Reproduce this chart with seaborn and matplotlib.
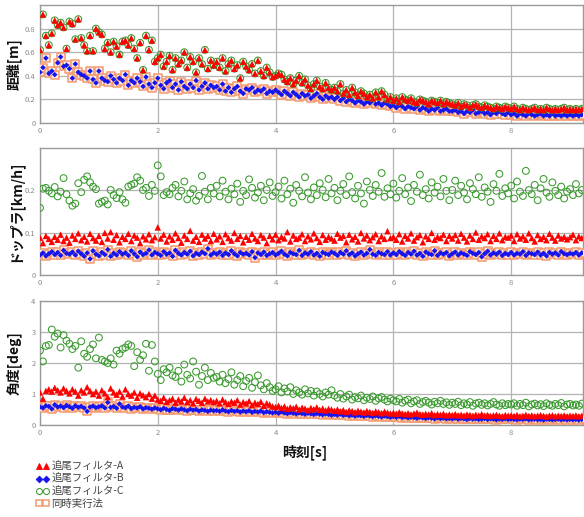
import numpy as np
import pandas as pd
import matplotlib
matplotlib.use("Agg")
import matplotlib.pyplot as plt
from matplotlib.lines import Line2D
import seaborn as sns

# ---------------- data ----------------
sample_period = 0.05  # s

labels = ["追尾フィルタ-A", "追尾フィルタ-B", "追尾フィルタ-C", "同時実行法"]
x_ticks = [0, 2, 4, 6, 8]

# distance [m]
dist_A = [0.62, 0.92, 0.74, 0.66, 0.76, 0.87, 0.83, 0.85, 0.81, 0.63, 0.86, 0.84, 0.71, 0.88, 0.72, 0.66, 0.61, 0.74, 0.61, 0.80,
          0.77, 0.75, 0.63, 0.68, 0.60, 0.69, 0.65, 0.58, 0.69, 0.70, 0.66, 0.72, 0.63, 0.55, 0.68, 0.45, 0.74, 0.62, 0.70, 0.52,
          0.55, 0.58, 0.48, 0.52, 0.57, 0.45, 0.55, 0.50, 0.53, 0.60, 0.47, 0.56, 0.52, 0.43, 0.55, 0.50, 0.62, 0.46, 0.53, 0.49,
          0.52, 0.47, 0.55, 0.44, 0.50, 0.53, 0.46, 0.49, 0.38, 0.52, 0.48, 0.45, 0.50, 0.42, 0.53, 0.44, 0.40, 0.47, 0.43, 0.39,
          0.40, 0.42, 0.41, 0.37, 0.35, 0.38, 0.33, 0.36, 0.40, 0.34, 0.37, 0.32, 0.29, 0.33, 0.36, 0.31, 0.29, 0.34, 0.30, 0.28,
          0.30, 0.27, 0.33, 0.25, 0.28, 0.24, 0.30, 0.26, 0.23, 0.27, 0.25, 0.22, 0.24, 0.21, 0.26, 0.22, 0.27, 0.24, 0.20, 0.22,
          0.19, 0.21, 0.18, 0.22, 0.20, 0.19, 0.21, 0.18, 0.17, 0.20, 0.19, 0.18, 0.16, 0.19, 0.18, 0.17, 0.19, 0.16, 0.18, 0.17,
          0.16, 0.15, 0.17, 0.14, 0.16, 0.15, 0.13, 0.15, 0.16, 0.14, 0.13, 0.15, 0.14, 0.13, 0.12, 0.14, 0.13, 0.12, 0.14, 0.13,
          0.12, 0.14, 0.12, 0.11, 0.13, 0.12, 0.11, 0.12, 0.13, 0.11, 0.12, 0.11, 0.13, 0.12, 0.11, 0.12, 0.11, 0.12, 0.13, 0.11,
          0.12, 0.11, 0.12, 0.11, 0.12]
dist_B = [0.43, 0.47, 0.55, 0.42, 0.44, 0.41, 0.51, 0.56, 0.48, 0.49, 0.46, 0.38, 0.50, 0.43, 0.41, 0.40, 0.38, 0.44, 0.37, 0.34,
          0.44, 0.38, 0.36, 0.35, 0.40, 0.37, 0.34, 0.38, 0.36, 0.41, 0.32, 0.36, 0.34, 0.38, 0.35, 0.31, 0.39, 0.33, 0.30, 0.34,
          0.38, 0.32, 0.29, 0.34, 0.36, 0.30, 0.33, 0.28, 0.35, 0.31, 0.29, 0.33, 0.30, 0.36, 0.28, 0.31, 0.34, 0.29, 0.32, 0.30,
          0.31, 0.28, 0.33, 0.27, 0.30, 0.26, 0.29, 0.31, 0.27, 0.25, 0.29, 0.28, 0.30, 0.26, 0.28, 0.27, 0.29, 0.25, 0.27, 0.26,
          0.28, 0.26, 0.24, 0.27, 0.25, 0.23, 0.26, 0.24, 0.22, 0.25, 0.23, 0.24, 0.21, 0.23, 0.25, 0.22, 0.20, 0.23, 0.21, 0.22,
          0.20, 0.22, 0.19, 0.21, 0.18, 0.20, 0.19, 0.17, 0.19, 0.18, 0.16, 0.18, 0.17, 0.19, 0.16, 0.17, 0.15, 0.17, 0.16, 0.14,
          0.15, 0.13, 0.15, 0.14, 0.12, 0.14, 0.13, 0.12, 0.14, 0.11, 0.13, 0.12, 0.10, 0.12, 0.11, 0.13, 0.10, 0.11, 0.12, 0.10,
          0.10, 0.11, 0.09, 0.10, 0.08, 0.10, 0.09, 0.11, 0.08, 0.09, 0.10, 0.08, 0.09, 0.07, 0.09, 0.08, 0.10, 0.08, 0.07, 0.09,
          0.07, 0.08, 0.06, 0.08, 0.07, 0.06, 0.08, 0.07, 0.06, 0.07, 0.08, 0.06, 0.07, 0.06, 0.08, 0.06, 0.07, 0.06, 0.07, 0.06,
          0.07, 0.06, 0.07, 0.06, 0.07]
dist_C = dist_A          # filter C coincides with filter A in distance
dist_S = dist_B          # simultaneous method coincides with filter B

# doppler [km/h]
dop_A = [0.088, 0.075, 0.092, 0.085, 0.078, 0.090, 0.083, 0.095, 0.080, 0.088, 0.076, 0.093, 0.085, 0.098, 0.082, 0.090, 0.079, 0.097, 0.087, 0.081,
         0.092, 0.078, 0.099, 0.086, 0.101, 0.083, 0.094, 0.077, 0.090, 0.085, 0.097, 0.080, 0.093, 0.088, 0.075, 0.091, 0.084, 0.096, 0.082, 0.089,
         0.112, 0.086, 0.095, 0.079, 0.091, 0.083, 0.098, 0.087, 0.076, 0.093, 0.085, 0.104, 0.081, 0.090, 0.078, 0.095, 0.086, 0.092, 0.080, 0.097,
         0.084, 0.091, 0.078, 0.096, 0.087, 0.081, 0.099, 0.085, 0.092, 0.077, 0.090, 0.083, 0.097, 0.086, 0.080, 0.094, 0.088, 0.075, 0.092, 0.084,
         0.095, 0.082, 0.090, 0.086, 0.101, 0.079, 0.093, 0.085, 0.088, 0.096, 0.080, 0.091, 0.084, 0.098, 0.087, 0.078, 0.094, 0.083, 0.090, 0.086,
         0.081, 0.097, 0.088, 0.092, 0.077, 0.095, 0.084, 0.090, 0.079, 0.099, 0.086, 0.093, 0.082, 0.089, 0.096, 0.080, 0.091, 0.085, 0.103, 0.087,
         0.090, 0.083, 0.096, 0.079, 0.092, 0.086, 0.098, 0.081, 0.089, 0.094, 0.077, 0.091, 0.085, 0.099, 0.083, 0.090, 0.087, 0.095, 0.080, 0.092,
         0.086, 0.094, 0.081, 0.097, 0.088, 0.079, 0.093, 0.085, 0.100, 0.083, 0.091, 0.087, 0.096, 0.080, 0.092, 0.085, 0.098, 0.082, 0.090, 0.088,
         0.093, 0.080, 0.096, 0.086, 0.091, 0.083, 0.098, 0.087, 0.079, 0.094, 0.085, 0.090, 0.082, 0.097, 0.088, 0.081, 0.093, 0.086, 0.090, 0.084,
         0.089, 0.095, 0.082, 0.091, 0.087]
dop_B = [0.047, 0.052, 0.045, 0.050, 0.055, 0.048, 0.053, 0.046, 0.058, 0.051, 0.049, 0.054, 0.047, 0.056, 0.050, 0.044, 0.052, 0.038, 0.057, 0.049,
         0.045, 0.053, 0.048, 0.060, 0.044, 0.051, 0.047, 0.055, 0.049, 0.052, 0.046, 0.057, 0.050, 0.043, 0.054, 0.048, 0.051, 0.059, 0.047, 0.053,
         0.050, 0.046, 0.055, 0.049, 0.052, 0.044, 0.058, 0.051, 0.047, 0.053, 0.049, 0.056, 0.045, 0.051, 0.048, 0.054, 0.050, 0.062, 0.047, 0.052,
         0.049, 0.054, 0.046, 0.052, 0.048, 0.057, 0.050, 0.045, 0.053, 0.049, 0.051, 0.047, 0.055, 0.041, 0.052, 0.048, 0.054, 0.046, 0.050, 0.053,
         0.047, 0.051, 0.056, 0.049, 0.045, 0.053, 0.050, 0.048, 0.058, 0.046, 0.052, 0.049, 0.055, 0.047, 0.051, 0.044, 0.053, 0.050, 0.048, 0.054,
         0.051, 0.046, 0.053, 0.049, 0.057, 0.048, 0.052, 0.045, 0.050, 0.054, 0.047, 0.051, 0.060, 0.049, 0.046, 0.053, 0.050, 0.048, 0.055, 0.047,
         0.052, 0.048, 0.055, 0.050, 0.046, 0.053, 0.049, 0.056, 0.047, 0.051, 0.044, 0.054, 0.050, 0.048, 0.057, 0.046, 0.052, 0.049, 0.053, 0.045,
         0.050, 0.054, 0.047, 0.052, 0.049, 0.046, 0.055, 0.051, 0.048, 0.053, 0.043, 0.050, 0.056, 0.047, 0.052, 0.049, 0.054, 0.046, 0.051, 0.048,
         0.053, 0.047, 0.051, 0.049, 0.055, 0.046, 0.052, 0.050, 0.048, 0.054, 0.047, 0.051, 0.045, 0.053, 0.049, 0.052, 0.047, 0.055, 0.050, 0.048,
         0.051, 0.049, 0.053, 0.047, 0.052]
dop_C = [0.158, 0.203, 0.205, 0.198, 0.192, 0.207, 0.185, 0.196, 0.228, 0.190, 0.175, 0.163, 0.168, 0.216, 0.195, 0.224, 0.232, 0.218, 0.208, 0.202,
         0.168, 0.172, 0.175, 0.166, 0.200, 0.188, 0.181, 0.195, 0.178, 0.170, 0.208, 0.212, 0.215, 0.230, 0.222, 0.200, 0.205, 0.186, 0.212, 0.198,
         0.258, 0.232, 0.188, 0.195, 0.190, 0.205, 0.212, 0.185, 0.198, 0.220, 0.178, 0.192, 0.202, 0.175, 0.186, 0.233, 0.196, 0.178, 0.205, 0.192,
         0.210, 0.185, 0.222, 0.196, 0.178, 0.203, 0.190, 0.215, 0.172, 0.198, 0.188, 0.225, 0.205, 0.182, 0.194, 0.210, 0.176, 0.200, 0.218, 0.186,
         0.195, 0.208, 0.180, 0.222, 0.190, 0.203, 0.170, 0.212, 0.198, 0.185, 0.230, 0.194, 0.178, 0.206, 0.188, 0.216, 0.200, 0.183, 0.226, 0.192,
         0.205, 0.176, 0.198, 0.214, 0.188, 0.232, 0.195, 0.180, 0.210, 0.192, 0.168, 0.220, 0.200, 0.186, 0.212, 0.196, 0.240, 0.184, 0.204, 0.190,
         0.215, 0.182, 0.198, 0.228, 0.190, 0.206, 0.174, 0.212, 0.196, 0.236, 0.188, 0.202, 0.180, 0.218, 0.194, 0.208, 0.185, 0.226, 0.198, 0.176,
         0.200, 0.222, 0.188, 0.210, 0.194, 0.178, 0.216, 0.202, 0.190, 0.230, 0.184, 0.206, 0.196, 0.172, 0.214, 0.198, 0.238, 0.186, 0.204, 0.192,
         0.210, 0.180, 0.220, 0.196, 0.186, 0.245, 0.200, 0.190, 0.212, 0.176, 0.204, 0.226, 0.194, 0.184, 0.218, 0.198, 0.188, 0.208, 0.180, 0.196,
         0.202, 0.188, 0.214, 0.192, 0.200]
dop_S = dop_B

# angle [deg]
ang_A = [1.05, 0.85, 1.10, 1.15, 1.08, 1.20, 1.12, 1.05, 1.18, 1.10, 1.02, 1.15, 1.08, 0.95, 1.12, 1.05, 1.22, 1.10, 1.00, 1.08,
         0.95, 1.12, 1.02, 0.90, 1.18, 1.05, 0.98, 1.08, 0.92, 1.15, 1.00, 0.95, 1.05, 0.88, 1.02, 0.96, 0.90, 1.00, 0.85, 0.95,
         0.82, 0.78, 0.88, 0.75, 0.80, 0.85, 0.72, 0.82, 0.76, 0.88, 0.74, 0.80, 0.70, 0.84, 0.78, 0.72, 0.85, 0.76, 0.80, 0.74,
         0.78, 0.70, 0.82, 0.74, 0.68, 0.76, 0.72, 0.80, 0.66, 0.74, 0.70, 0.77, 0.64, 0.72, 0.68, 0.75, 0.62, 0.70, 0.66, 0.60,
         0.58, 0.62, 0.55, 0.60, 0.52, 0.57, 0.54, 0.59, 0.50, 0.56, 0.53, 0.48, 0.55, 0.51, 0.57, 0.49, 0.53, 0.47, 0.52, 0.50,
         0.46, 0.50, 0.44, 0.48, 0.42, 0.47, 0.45, 0.41, 0.46, 0.43, 0.40, 0.45, 0.42, 0.39, 0.44, 0.41, 0.38, 0.43, 0.40, 0.37,
         0.39, 0.36, 0.41, 0.37, 0.35, 0.38, 0.34, 0.37, 0.40, 0.35, 0.33, 0.36, 0.34, 0.38, 0.32, 0.35, 0.33, 0.36, 0.31, 0.34,
         0.32, 0.35, 0.31, 0.33, 0.30, 0.34, 0.32, 0.29, 0.33, 0.31, 0.35, 0.30, 0.32, 0.29, 0.31, 0.33, 0.30, 0.28, 0.32, 0.30,
         0.31, 0.29, 0.32, 0.28, 0.30, 0.33, 0.29, 0.31, 0.28, 0.30, 0.32, 0.29, 0.27, 0.30, 0.31, 0.28, 0.30, 0.29, 0.31, 0.28,
         0.30, 0.29, 0.31, 0.28, 0.30]
ang_B = [0.58, 0.55, 0.62, 0.60, 0.52, 0.65, 0.58, 0.61, 0.56, 0.63, 0.59, 0.54, 0.62, 0.57, 0.60, 0.55, 0.44, 0.58, 0.61, 0.56,
         0.59, 0.62, 0.55, 0.73, 0.57, 0.60, 0.54, 0.68, 0.58, 0.56, 0.61, 0.53, 0.57, 0.55, 0.59, 0.52, 0.56, 0.54, 0.51, 0.55,
         0.52, 0.49, 0.54, 0.50, 0.47, 0.53, 0.51, 0.48, 0.52, 0.49, 0.46, 0.51, 0.48, 0.50, 0.45, 0.49, 0.47, 0.44, 0.48, 0.46,
         0.47, 0.44, 0.49, 0.45, 0.43, 0.47, 0.44, 0.46, 0.42, 0.45, 0.43, 0.46, 0.41, 0.44, 0.42, 0.45, 0.40, 0.43, 0.41, 0.39,
         0.41, 0.38, 0.42, 0.39, 0.37, 0.40, 0.38, 0.36, 0.39, 0.37, 0.35, 0.38, 0.36, 0.34, 0.37, 0.35, 0.33, 0.36, 0.34, 0.32,
         0.34, 0.32, 0.35, 0.31, 0.33, 0.30, 0.32, 0.29, 0.31, 0.30, 0.28, 0.31, 0.29, 0.27, 0.30, 0.28, 0.26, 0.29, 0.27, 0.25,
         0.27, 0.25, 0.28, 0.24, 0.26, 0.23, 0.25, 0.24, 0.22, 0.25, 0.23, 0.21, 0.24, 0.22, 0.20, 0.23, 0.21, 0.22, 0.20, 0.21,
         0.20, 0.22, 0.19, 0.21, 0.20, 0.18, 0.21, 0.19, 0.20, 0.18, 0.19, 0.21, 0.18, 0.20, 0.19, 0.17, 0.19, 0.18, 0.20, 0.18,
         0.19, 0.18, 0.17, 0.19, 0.18, 0.20, 0.17, 0.18, 0.19, 0.17, 0.18, 0.16, 0.19, 0.18, 0.17, 0.18, 0.19, 0.17, 0.18, 0.17,
         0.18, 0.17, 0.18, 0.16, 0.18]
ang_C = [2.40, 2.05, 2.55, 2.58, 3.08, 2.85, 2.95, 2.50, 2.90, 2.72, 2.62, 2.45, 2.55, 1.85, 2.70, 2.30, 2.20, 2.45, 2.60, 2.15,
         2.82, 2.10, 2.05, 2.00, 2.15, 1.95, 2.40, 2.30, 2.45, 2.50, 2.60, 2.55, 1.90, 2.35, 2.10, 2.25, 2.62, 1.75, 2.58, 2.05,
         1.65, 1.45, 1.80, 1.70, 1.85, 1.60, 1.55, 1.75, 1.40, 1.95, 1.62, 1.50, 2.05, 1.72, 1.30, 1.58, 1.85, 1.45, 1.68, 1.52,
         1.55, 1.40, 1.62, 1.35, 1.48, 1.70, 1.30, 1.45, 1.58, 1.25, 1.42, 1.52, 1.20, 1.38, 1.60, 1.28, 1.15, 1.35, 1.22, 1.10,
         1.15, 1.25, 1.05, 1.18, 1.08, 1.22, 1.00, 1.12, 1.05, 0.98, 1.15, 1.02, 1.10, 0.95, 1.08, 1.00, 0.92, 1.05, 0.98, 1.12,
         0.95, 0.88, 1.00, 0.85, 0.92, 0.98, 0.82, 0.90, 0.86, 0.95, 0.80, 0.88, 0.84, 0.92, 0.78, 0.86, 0.90, 0.82, 0.76, 0.85,
         0.80, 0.76, 0.84, 0.72, 0.78, 0.82, 0.70, 0.76, 0.80, 0.68, 0.74, 0.78, 0.72, 0.66, 0.75, 0.70, 0.78, 0.68, 0.73, 0.65,
         0.72, 0.68, 0.75, 0.64, 0.70, 0.66, 0.74, 0.62, 0.69, 0.72, 0.65, 0.70, 0.63, 0.68, 0.74, 0.66, 0.62, 0.70, 0.64, 0.68,
         0.66, 0.70, 0.62, 0.68, 0.64, 0.72, 0.60, 0.66, 0.69, 0.63, 0.67, 0.61, 0.70, 0.65, 0.62, 0.68, 0.64, 0.71, 0.60, 0.66,
         0.68, 0.63, 0.66, 0.62, 0.69]
ang_S = ang_B

panels = [
    ("距離[m]", [dist_A, dist_B, dist_C, dist_S], (0, 1.0), [0, 0.2, 0.4, 0.6, 0.8], ["0", "0.2", "0.4", "0.6", "0.8"]),
    ("ドップラ[km/h]", [dop_A, dop_B, dop_C, dop_S], (0, 0.3), [0, 0.1, 0.2], ["0", "0.1", "0.2"]),
    ("角度[deg]", [ang_A, ang_B, ang_C, ang_S], (0, 4), [0, 1, 2, 3, 4], ["0", "1", "2", "3", "4"]),
]

# ---------------- styling ----------------
sns.set_style("white")
plt.rcParams["font.family"] = ["Noto Sans CJK JP", "DejaVu Sans"]

styles = {
    labels[0]: dict(marker="^", color="#ff0000", s=22, edgecolor="none", linewidth=0),
    labels[1]: dict(marker="D", color="#1414f0", s=8, edgecolor="none", linewidth=0),
    labels[2]: dict(marker="o", color="none", s=24, edgecolor="#3a9a2e", linewidth=0.75),
    labels[3]: dict(marker="s", color="#fdebe1", s=30, edgecolor="#f59a6e", linewidth=1.1),
}
draw_order = [3, 1, 2, 0]

W, H = 584, 517
fig = plt.figure(figsize=(W / 100, H / 100), dpi=100)
boxes = [(5, 123), (147.5, 275), (301, 425)]
left_px, right_px = 40, 583

for (ylab, series, ylim, yt, ytl), (top_px, bot_px) in zip(panels, boxes):
    ax = fig.add_axes([left_px / W, 1 - bot_px / H, (right_px - left_px) / W, (bot_px - top_px) / H])
    for idx in draw_order:
        vals = series[idx]
        df = pd.DataFrame({"t": [i * sample_period for i in range(len(vals))], "v": vals})
        st = styles[labels[idx]]
        sns.scatterplot(data=df, x="t", y="v", ax=ax, marker=st["marker"], s=st["s"],
                        facecolor=st["color"], edgecolor=st["edgecolor"], linewidth=st["linewidth"],
                        legend=False, zorder=3)
    ax.set_xlim(0, 9.22)
    ax.set_ylim(*ylim)
    ax.set_xticks(x_ticks)
    ax.set_xticklabels([str(v) for v in x_ticks])
    ax.set_yticks(yt)
    ax.set_yticklabels(ytl)
    ax.set_xlabel("")
    ax.set_ylabel("")
    ax.grid(True, color="#b4b4b4", linewidth=0.9)
    ax.set_axisbelow(True)
    for sp in ax.spines.values():
        sp.set_color("#9a9a9a")
        sp.set_linewidth(1.0)
    ax.tick_params(axis="both", labelsize=5.5, colors="#8a8a8a", length=2, width=0.6, pad=1.2)
    fig.text(14 / W, 1 - ((top_px + bot_px) / 2) / H, ylab, rotation=90, ha="center", va="center",
             fontsize=10, fontweight="bold", color="#111111")

fig.text(305 / W, 1 - 452 / H, "時刻[s]", ha="center", va="center", fontsize=10, fontweight="bold", color="#111111")

legend_sizes = {"^": 4.3, "D": 3.4, "o": 4.3, "s": 4.8}
handles = []
for lab in labels:
    st = styles[lab]
    handles.append(Line2D([], [], linestyle="none", marker=st["marker"],
                          markerfacecolor=st["color"] if lab != labels[3] else "none",
                          markeredgecolor=st["edgecolor"] if st["edgecolor"] != "none" else st["color"],
                          markeredgewidth=max(st["linewidth"], 0.6),
                          markersize=legend_sizes[st["marker"]]))
fig.legend(handles=handles, labels=labels, loc="upper left", bbox_to_anchor=(36 / W, 1 - 462 / H),
           frameon=False, numpoints=2, handlelength=1.3, handletextpad=0.2, labelspacing=0.22,
           borderaxespad=0, borderpad=0, prop={"size": 7.5}, labelcolor="#444444")

fig.savefig("out.png", dpi=100)
